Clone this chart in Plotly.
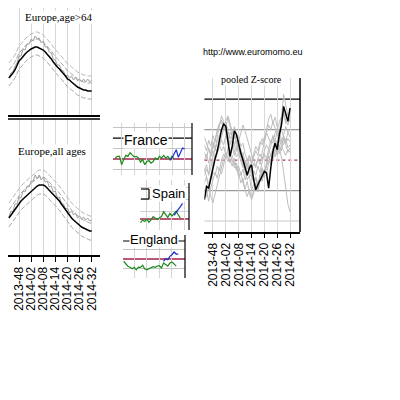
import plotly.graph_objects as go

# week index: 0 = 2013-48, 6 = 2014-02, ... 36 = 2014-32
tick_weeks = [0, 6, 12, 18, 24, 30, 36]
tick_labels = ["2013-48", "2014-02", "2014-08", "2014-14", "2014-20", "2014-26", "2014-32"]

weeks_left = list(range(-5, 37))
weeks_pool = list(range(-4, 37))

# Europe, age>64 (arbitrary units)
old_base = [37, 39, 42, 45, 50, 54, 56, 59, 61, 63, 65, 66, 67, 68, 68, 67, 66, 65, 63, 61, 59,
            56, 53, 50, 48, 46, 44, 41, 39, 36, 35, 33, 31, 30, 28, 27, 26, 25, 25, 24, 24, 24]
old_up1 = [45, 47, 50, 53, 58, 62, 64, 67, 69, 71, 73, 74, 75, 76, 76, 75, 74, 73, 71, 69, 67,
           64, 61, 58, 56, 54, 52, 49, 47, 44, 43, 41, 39, 38, 36, 35, 34, 33, 33, 32, 32, 32]
old_up2 = [52, 54, 57, 60, 65, 69, 71, 74, 76, 78, 80, 81, 82, 83, 83, 82, 81, 80, 78, 76, 74,
           71, 68, 65, 63, 61, 59, 56, 54, 51, 50, 48, 46, 45, 43, 42, 41, 40, 40, 39, 39, 39]
old_lo = [29, 31, 34, 37, 42, 46, 48, 51, 53, 55, 57, 58, 59, 60, 60, 59, 58, 57, 55, 53, 51,
          48, 45, 42, 40, 38, 36, 33, 31, 28, 27, 25, 23, 22, 20, 19, 18, 17, 17, 16, 16, 16]
old_obs = [37, 42, 43, 49, 52, 59, 59, 66, 65, 71, 71, 76, 74, 79, 76, 77, 72, 74, 68, 68, 63,
           62, 56, 55, 50, 50, 45, 44, 39, 40, 37, 39, 35, 38, 34, 36, 33, 36, 33, 36, 33, 35]

# Europe, all ages
all_base = [37, 40, 43, 46, 49, 52, 54, 56, 58, 60, 62, 64, 66, 68, 69, 70, 70, 70, 69, 67, 65,
            63, 61, 59, 56, 54, 51, 48, 45, 42, 39, 37, 35, 33, 31, 29, 28, 27, 26, 25, 24, 24]
all_up1 = [45, 48, 51, 54, 57, 60, 62, 64, 66, 68, 70, 72, 74, 76, 77, 78, 78, 78, 77, 75, 73,
           71, 69, 67, 64, 62, 59, 56, 53, 50, 47, 45, 43, 41, 39, 37, 36, 35, 34, 33, 32, 32]
all_up2 = [52, 55, 58, 61, 64, 67, 69, 71, 73, 75, 77, 79, 81, 83, 84, 85, 85, 85, 84, 82, 80,
           78, 76, 74, 71, 69, 66, 63, 60, 57, 54, 52, 50, 48, 46, 44, 43, 42, 41, 40, 39, 39]
all_lo = [28, 31, 34, 37, 40, 43, 45, 47, 49, 51, 53, 55, 57, 59, 60, 61, 61, 61, 60, 58, 56,
          54, 52, 50, 47, 45, 42, 39, 36, 33, 30, 28, 26, 24, 22, 20, 19, 18, 17, 16, 15, 15]
all_obs = [38, 44, 43, 51, 51, 58, 57, 64, 63, 69, 68, 74, 74, 80, 76, 80, 75, 78, 73, 74, 68,
           69, 63, 64, 57, 58, 51, 51, 46, 47, 42, 44, 40, 42, 37, 39, 36, 38, 35, 37, 34, 35]

# country z-scores
france_wk = list(range(-3, 26))
france_z = [0.2, 0.5, 0.5, -1.1, -0.1, 0.7, 0.5, 1.2, 0.8, 0.4, 0.5, 0.2, -0.6, -0.1, -1.1,
            -0.5, -0.3, -0.8, -0.5, 0.2, -0.1, 0.5, 0.2, 0.7, 0.2, 0.5, -0.1, 0.5, 0.0]
france_new_wk = list(range(23, 31))
france_new = [-0.26, 0.19, 1.02, 1.79, 0.32, 1.28, 2.12, 1.92]

spain_wk = list(range(9, 29))
spain_z = [-0.9, -0.3, -0.6, 0.0, -0.8, -0.25, 0.6, 0.2, -0.1, 0.3, 0.6, 1.8, 1.0, 0.4, 1.4,
           0.75, 1.4, 2.0, 1.0, 0.2]
spain_new_wk = list(range(25, 30))
spain_new = [0.9, 1.8, 2.4, 3.1, 3.9]

england_wk = list(range(1, 27))
england_z = [-0.5, -1.1, -1.6, -1.85, -2.15, -1.85, -2.4, -1.8, -1.85, -1.4, -2.2, -2.4, -2.15,
             -1.8, -1.7, -1.85, -1.55, -1.5, -2.0, -0.9, -1.25, -1.6, -0.9, -0.65, -1.1, -1.6]
england_new_wk = list(range(20, 28))
england_new = [-0.5, 0.07, -0.15, 0.6, 0.95, 1.55, 1.1, 1.1]

# pooled z-score and the single countries behind it
pooled = [-2.6, -1.73, -1.84, -1.18, -0.42, 0.09, 0.57, 1.22, 1.99, 2.36, 2.21, 1.22, 0.24, 0.9,
          1.92, 1.66, 1.0, 0.46, 0.02, -0.52, -1.0, -0.52, -0.31, -1.29, -1.95, -1.62, -1.29,
          -1.0, -0.74, -0.85, -1.84, -0.52, 0.57, 1.11, 0.68, 1.66, 2.31, 3.52, 3.08, 2.54, 3.41]
country_lines = [
    [-1.0, -0.6, -0.9, 0.2, 0.8, 1.4, 1.9, 2.3, 2.6, 2.2, 2.5, 1.9, 1.4, 1.7, 1.0, 0.6, 0.9, 0.2,
     -0.3, -0.6, -0.2, -0.9, -1.1, -0.7, -1.0, -0.4, -0.8, -0.1, 0.4, 0.1, 0.8, 1.3, 1.1, 1.8,
     2.1, 1.7, 2.6, 3.0, 2.4, 2.7, 2.5],
    [0.5, 0.1, 0.8, 0.3, 1.0, 0.6, 1.2, 1.6, 2.0, 2.4, 2.1, 2.8, 2.2, 1.5, 1.8, 0.9, 0.4, 0.7,
     -0.3, -0.8, -1.3, -1.0, -2.0, -1.6, -1.2, -1.7, -0.9, -0.5, -1.0, -0.2, 0.3, -0.1, 0.6, 1.0,
     0.5, 1.3, 0.9, 1.6, 1.2, 1.8, 1.5],
    [-2.0, -2.4, -1.5, -1.0, -0.3, 0.2, 0.7, 1.0, 0.6, 0.9, 0.3, 0.5, 0.0, -0.4, 0.1, -0.6, -1.1,
     -0.8, -1.5, -1.9, -1.4, -2.2, -2.5, -2.0, -1.6, -2.1, -1.3, -0.9, -1.2, -0.4, 0.0, -0.3, 0.5,
     1.1, 0.8, 1.9, 2.8, 4.3, 3.5, 2.9, 3.1],
    [1.0, 0.6, 1.3, 0.9, 1.6, 1.2, 2.0, 2.4, 2.6, 1.9, 2.2, 1.5, 1.0, 1.3, 0.6, 0.2, 0.5, -0.1,
     -0.5, 0.0, -0.4, 0.3, -0.2, 0.4, 0.9, 0.6, 1.2, 1.0, 1.5, 1.8, 1.4, 1.1, 1.6, 0.9, 1.3, 0.7,
     0.2, -0.8, -1.9, -2.9, -3.4],
    [-1.5, -1.1, -1.8, -1.2, -0.8, -1.0, -0.4, -0.7, 0.0, 0.4, 0.1, 0.8, 1.2, 1.5, 1.0, 1.3, 0.6,
     0.2, 0.5, -0.2, -0.6, -0.3, -1.0, -1.4, -1.1, -1.5, -1.2, -0.6, -0.9, -0.3, 0.2, -0.1, 0.5,
     0.2, 0.8, 0.4, 0.9, 0.6, 0.3, 0.7, 0.5],
    [0.0, 0.4, -0.2, 0.6, 1.2, 0.8, 0.5, 0.9, 1.3, 1.0, 1.6, 1.2, 1.8, 1.5, 2.2, 1.7, 1.4, 0.9,
     1.1, 0.4, 0.0, 0.3, -0.3, 0.2, 0.6, 0.3, 1.0, 1.4, 1.1, 1.8, 2.3, 2.0, 2.5, 2.1, 1.6, 1.9,
     1.3, 1.0, 1.4, 0.8, 1.0],
    [-0.5, -1.2, -1.8, -2.4, -2.8, -2.2, -1.6, -1.0, -0.4, 0.1, 0.5, 0.2, -0.2, 0.3, -0.3, -0.7,
     -0.4, -1.0, -0.6, -1.3, -0.9, -0.5, -0.8, -0.2, -0.5, 0.1, 0.4, 0.0, 0.6, 1.0, 0.7, 0.3, 0.8,
     1.2, 0.9, 1.5, 1.1, 1.7, 2.2, 1.8, 2.0],
    [1.5, 1.1, 0.7, 0.3, 0.6, 0.0, 0.4, 0.9, 1.5, 2.1, 2.6, 2.9, 2.4, 2.0, 1.4, 1.7, 1.1, 0.6,
     0.2, -0.3, 0.1, -0.5, -0.9, -1.4, -1.1, -1.8, -1.3, -0.7, -1.0, -0.2, 0.5, 0.9, 1.6, 1.2,
     2.0, 2.5, 2.9, 3.2, 2.6, 2.3, 2.8],
    [-2.5, -2.0, -2.7, -1.8, -1.3, -0.8, -1.2, -0.5, -0.9, -0.2, 0.3, -0.1, 0.4, 0.0, -0.5, -0.2,
     -0.9, -1.5, -1.2, -2.0, -2.4, -1.9, -2.6, -2.2, -1.5, -1.9, -1.0, -1.4, -0.6, -0.9, -0.2,
     0.4, 0.0, 0.7, 0.3, 1.0, 0.6, 1.4, 1.0, 0.5, 0.8],
    [-0.8, -0.3, -1.0, -0.5, 0.2, 0.7, 1.5, 2.2, 2.9, 2.5, 1.8, 1.2, 0.6, 0.9, 0.3, 0.7, 1.2, 1.8,
     2.3, 1.9, 1.4, 0.8, 0.4, 0.0, -0.4, 0.1, -0.3, 0.5, 1.2, 2.0, 2.7, 3.0, 2.4, 2.8, 2.2, 1.6,
     2.0, 1.5, 1.1, 1.4, 1.2],
]

W = 400.0


def dx(a, b):
    return [a / W, b / W]


def dy(top, bottom):
    return [1 - bottom / W, 1 - top / W]


GREEN = '#1c8a1c'
BLUE = '#1a2ed0'
RED = '#a3204c'
SANS = 'Liberation Sans, Arial'
SERIF = 'Liberation Serif, Times New Roman'

fig = go.Figure()


def line(x, y, ax, color, width=1, dash='solid'):
    fig.add_trace(go.Scatter(x=x, y=y, mode='lines', xaxis='x' + ax, yaxis='y' + ax,
                             line=dict(color=color, width=width, dash=dash),
                             showlegend=False, hoverinfo='skip'))


# left seasonal panels
for ax, base, up1, up2, lo, obs in [('', old_base, old_up1, old_up2, old_lo, old_obs),
                                    ('2', all_base, all_up1, all_up2, all_lo, all_obs)]:
    line(weeks_left, up2, ax, '#b8b8b8', 1, '5px,2px')
    line(weeks_left, up1, ax, '#a8a8a8', 1, '5px,2px')
    line(weeks_left, lo, ax, '#a8a8a8', 1, '5px,2px')
    line(weeks_left, obs, ax, '#a0a0a0', 1)
    line(weeks_left, base, ax, 'black', 1.5)

# country panels
line(france_wk, france_z, '3', GREEN, 1.2)
line(france_new_wk, france_new, '3', BLUE, 1.2)
line(spain_wk, spain_z, '4', GREEN, 1.2)
line(spain_new_wk, spain_new, '4', BLUE, 1.2)
line(england_wk, england_z, '5', GREEN, 1.2)
line(england_new_wk, england_new, '5', BLUE, 1.2)

# pooled
for c in country_lines:
    line(weeks_pool, c, '6', '#bdbdbd', 1)
line(weeks_pool, pooled, '6', 'black', 1.5)

tickfont = dict(family=SANS, size=12, color='black')
hidden_y = dict(showgrid=False, showticklabels=False, zeroline=False, showline=False, ticks='')
small_x = dict(tickvals=tick_weeks, showticklabels=False, showgrid=True, gridcolor='#d4d4d4',
               zeroline=False, ticks='', showline=False)

fig.update_layout(
    width=400, height=400, margin=dict(l=0, r=0, t=0, b=0),
    paper_bgcolor='white', plot_bgcolor='white', showlegend=False,
    xaxis=dict(domain=dx(0, 92), range=[-5.45, 40.1], anchor='y', tickvals=tick_weeks,
               showticklabels=False, showgrid=True, gridcolor='#d6d6d6', zeroline=False,
               showline=True, linecolor='black', linewidth=1.5, ticks=''),
    yaxis=dict(domain=dy(0, 107), range=[0, 107], anchor='x', **hidden_y),
    xaxis2=dict(domain=dx(0, 92), range=[-5.45, 40.1], anchor='y2', tickvals=tick_weeks,
                ticktext=tick_labels, tickangle=-90, tickfont=tickfont, ticks='outside', ticklen=5,
                tickcolor='black', showgrid=True, gridcolor='#d6d6d6', zeroline=False,
                showline=True, linecolor='black', linewidth=2),
    yaxis2=dict(domain=dy(111, 247), range=[0, 136], anchor='x2', **hidden_y),
    xaxis3=dict(domain=dx(105, 184), range=[-4.1, 33.5], anchor='y3', **small_x),
    yaxis3=dict(domain=dy(115, 167), range=[-3.08, 6.92], anchor='x3', tickvals=[-2, 2, 6],
                showticklabels=False, showgrid=True, gridcolor='#c4c4c4', zeroline=False, ticks=''),
    xaxis4=dict(domain=dx(132, 181), range=[8.76, 32.1], anchor='y4', **small_x),
    yaxis4=dict(domain=dy(172, 222), range=[-2.75, 9.75], anchor='x4', tickvals=[2, 5, 8],
                showticklabels=False, showgrid=True, gridcolor='#d0d0d0', zeroline=False, ticks=''),
    xaxis5=dict(domain=dx(115, 177), range=[0.67, 30.2], anchor='y5', **small_x),
    yaxis5=dict(domain=dy(227, 270), range=[-4.22, 5.33], anchor='x5', tickvals=[-2, 2],
                showticklabels=False, showgrid=True, gridcolor='#c4c4c4', zeroline=False, ticks=''),
    xaxis6=dict(domain=dx(196.4, 292), range=[-4, 40.65], anchor='y6', tickvals=tick_weeks,
                ticktext=tick_labels, tickangle=-90, tickfont=tickfont, ticks='outside', ticklen=4,
                tickcolor='black', showgrid=True, gridcolor='#d8d8d8', zeroline=False,
                showline=True, linecolor='black', linewidth=2),
    yaxis6=dict(domain=dy(70, 224), range=[-4.72, 5.38], anchor='x6', **hidden_y),
)

shapes = []


def hline(ax, y, color, width=1, dash='solid'):
    shapes.append(dict(type='line', xref='x' + ax + ' domain', yref='y' + ax, x0=0, x1=1,
                       y0=y, y1=y, line=dict(color=color, width=width, dash=dash),
                       layer='below'))


def seg(x0, y0, x1, y1, width=1.2):
    shapes.append(dict(type='line', xref='paper', yref='paper', x0=x0 / W, x1=x1 / W,
                       y0=1 - y0 / W, y1=1 - y1 / W, line=dict(color='black', width=width)))


# reference lines
hline('3', 0, RED, 1.3)
hline('3', 4, 'black', 1.2)
hline('4', 0, RED, 1.3)
hline('5', 0, RED, 1.3)
hline('5', 4, 'black', 1.2)
hline('6', 4, 'black', 1.2)
hline('6', 2, '#9a9a9a', 1.2)
hline('6', -2, '#9a9a9a', 1.2)
hline('6', -4, '#c8c8c8', 1.2)
hline('6', 0, '#b0305c', 1.3, 'dot')

# frame pieces
seg(0, 111, 92, 111, 1.5)
seg(184, 115, 184, 167)
seg(181, 175, 181, 222)
seg(177, 227, 177, 270)
seg(292, 70, 292, 224, 1.5)
seg(133, 181, 141, 181)
seg(141, 181, 141, 191)
seg(133, 191, 141, 191)

fig.update_layout(shapes=shapes)


def label(text, x, y, family, size, bg=None):
    fig.add_annotation(text=text, x=x / W, y=1 - y / W, xref='paper', yref='paper',
                       showarrow=False, xanchor='center', yanchor='middle',
                       font=dict(family=family, size=size, color='black'),
                       bgcolor=bg, borderpad=0)


label('Europe,age&gt;64', 50, 9, SERIF, 11, 'white')
label('Europe,all ages', 44, 143, SERIF, 11, 'white')
label('France', 137.5, 132, SANS, 14, 'white')
label('Spain', 160, 185, SANS, 13, 'white')
label('England', 146, 232, SANS, 13, 'white')
label('http://www.euromomo.eu', 245, 44, SANS, 9)
label('pooled Z-score', 243, 72, SERIF, 10, 'white')

fig.write_html('out.html')
